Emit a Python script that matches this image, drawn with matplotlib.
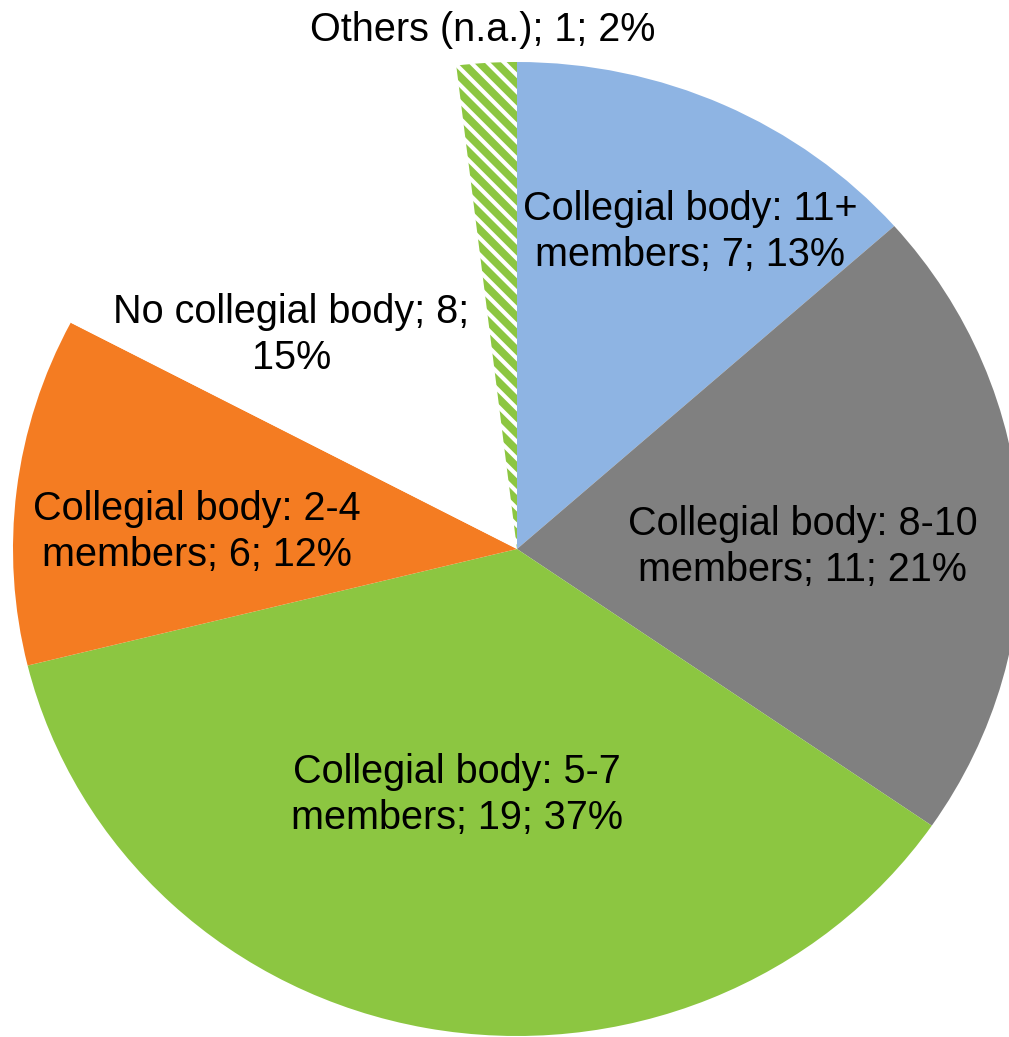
import matplotlib.pyplot as plt
import matplotlib as mpl

# --- Daten ---
categories = ["Collegial body: 11+ members", "Collegial body: 8-10 members",
              "Collegial body: 5-7 members", "Collegial body: 2-4 members",
              "No collegial body", "Others (n.a.)"]
counts = [7, 11, 19, 6, 8, 1]
percents = [13, 21, 37, 12, 15, 2]
label_texts = ["Collegial body: 11+\nmembers; 7; 13%",
               "Collegial body: 8-10\nmembers; 11; 21%",
               "Collegial body: 5-7\nmembers; 19; 37%",
               "Collegial body: 2-4\nmembers; 6; 12%",
               "No collegial body; 8;\n15%",
               "Others (n.a.); 1; 2%"]

colors = ["#8EB4E3", "#808080", "#8CC641", "#F47C22", "#FFFFFF", "#FFFFFF"]
green = "#8CC641"

mpl.rcParams['hatch.linewidth'] = 5.5
mpl.rcParams['font.family'] = ['Liberation Sans', 'DejaVu Sans']

fig = plt.figure(figsize=(10.09, 10.37), dpi=100)
ax = fig.add_axes([0, 0, 1, 1])

wedges, _ = ax.pie(counts, colors=colors, startangle=90, counterclock=False,
                   radius=1, wedgeprops=dict(linewidth=0, edgecolor='none'))
# Others: gestreift
wedges[-1].set_hatch('\\\\')
wedges[-1].set_edgecolor(green)
wedges[-1].set_linewidth(0)

# Achsengrenzen: Kreis im Original leicht in die Breite gezogen
ax.set_aspect('auto')
ax.set_xlim(-517 / 504, (1009 - 517) / 504)
ax.set_ylim(-(1037 - 549) / 487, 549 / 487)
ax.axis('off')

# Beschriftungen (Position relativ zum Mittelpunkt)
label_pos = [(0.343, 0.651), (0.567, 0.004), (-0.119, -0.505),
             (-0.635, 0.035), (-0.448, 0.439), (-0.069, 1.066)]
for txt, (lx, ly) in zip(label_texts, label_pos):
    ax.text(lx, ly, txt, ha='center', va='center', fontsize=28.5,
            linespacing=1.27, color='black')

plt.savefig("out.png", dpi=100)
